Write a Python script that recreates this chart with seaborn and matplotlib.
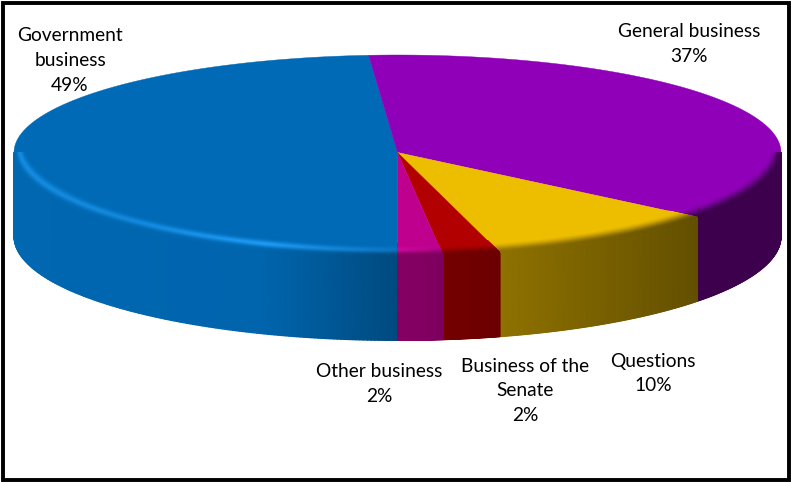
import numpy as np
import matplotlib
matplotlib.use('Agg')
import matplotlib.pyplot as plt
from matplotlib.patches import Rectangle
import seaborn as sns

# Share of time per category
categories = ['Government\nbusiness', 'General business', 'Questions', 'Business of the\nSenate', 'Other business']
shares = [48.8, 36.9, 10.0, 2.4, 1.9]
slice_colors = ['#006AB6', '#8F00B8', '#EDBD00', '#B20000', '#BF008F']
label_pos = [(70, 60.5), (689, 44), (653, 373.5), (525, 391), (379, 384)]

W, H = 791, 482
CX, CY, RX, RY = 397.5, 152.5, 383.5, 100
BACK = 97.5 / RY
FRONT = 104 / RY
DEPTH = 84 / RY

sns.set_theme(style='white')
plt.rcParams['font.family'] = ['Lato', 'DejaVu Sans']
palette = sns.color_palette(slice_colors)

fig, ax = plt.subplots(figsize=(W / 100, H / 100), dpi=100)
ax.set_position([0, 0, 1, 1])
ax.axis('off')
ax.set_xlim((0 - CX) / RX, (W - CX) / RX)
ax.set_ylim((CY - H) / RY, CY / RY)


def shade(x):
    # side wall gets darker going left to right
    return np.interp(x, [-1, -0.35, 0, 0.27, 0.78, 1], [0.97, 0.95, 0.7, 0.6, 0.42, 0.42])


def rim_radius(t, s):
    # where the ray at angle t meets the rim ellipse, s=0 inner edge, s=1 outer edge
    a = 1 - 0.028 * (1 - s)
    d = 0.12 * (1 - s)
    c, n = np.cos(t), np.abs(np.sin(t))
    A = (c / a) ** 2 + n ** 2
    return (-n * d + np.sqrt((n * d) ** 2 + A * (1 - d ** 2))) / A


ends = 270 - np.cumsum(shares) * 3.6
starts = np.r_[270, ends[:-1]]
for a0, a1, base in zip(starts, ends, palette):
    base = np.array(base)

    # Top face of the slice
    t = np.radians(np.linspace(a0, a1, 300))
    yy = np.sin(t) * np.where(np.sin(t) > 0, BACK, FRONT)
    ax.fill(np.r_[0, np.cos(t)], np.r_[0, yy], color=base, lw=0.3, zorder=2)

    # Side wall and rounded rim, only for the front half
    for lo, hi in [(a1, a0), (a1 + 360, a0 + 360)]:
        lo, hi = max(lo, 180), min(hi, 360)
        if hi <= lo:
            continue
        t = np.radians(np.linspace(lo, hi, 160))

        x = np.cos(t)
        k = np.linspace(0, 1, 2)[:, None]
        X = np.tile(x, (2, 1))
        Y = np.sin(t) * FRONT - k * DEPTH
        C = base[None, None, :] * shade(X)[:, :, None]
        ax.pcolormesh(X, Y, np.clip(C, 0, 1), shading='gouraud', zorder=3)

        s = np.linspace(0, 1, 40)[:, None]
        r = rim_radius(t, s)
        X = r * np.cos(t)
        Y = r * np.sin(t) * FRONT
        w = np.clip((s - 0.25) / 0.75, 0, 1)
        w = (w * w * (3 - 2 * w)) * np.ones_like(X)
        wall = base[None, None, :] * shade(X)[:, :, None]
        C = base[None, None, :] * (1 - w[:, :, None]) + wall * w[:, :, None]
        bump = np.exp(-((s - 0.55) / 0.25) ** 2)
        h = np.interp(X, [-1, -0.7, -0.35, 0, 0.15, 1], [0.55, 0.5, 0.8, 0.3, 0, 0]) * bump
        C = C + h[:, :, None] * (0.15 + 0.25 * base)[None, None, :]
        ax.pcolormesh(X, Y, np.clip(C, 0, 1), shading='gouraud', zorder=4)

# Labels
for name, share, (px, py) in zip(categories, shares, label_pos):
    ax.text((px - CX) / RX, (CY - py) / RY, f'{name}\n{share:.0f}%', ha='center', va='center',
            fontsize=13.8, color='black', linespacing=1.55, zorder=6)

# Black frame round the picture
fig.patches.append(Rectangle((2.5 / W, 2.5 / H), (W - 5) / W, (H - 5) / H, transform=fig.transFigure,
                             fill=False, edgecolor='black', linewidth=2.8))

fig.savefig('out.png', dpi=100, facecolor='white')
